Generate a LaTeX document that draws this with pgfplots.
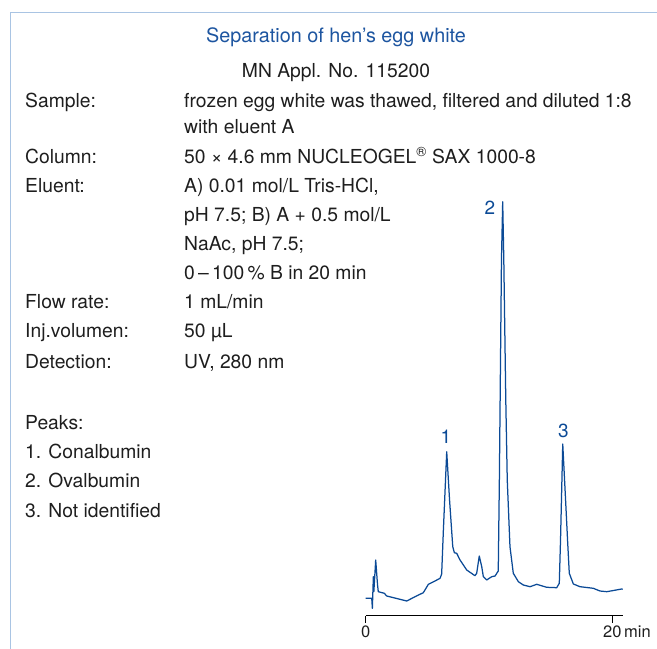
\documentclass[border=0pt]{standalone}
\usepackage{pgfplots}
\pgfplotsset{compat=1.18}
\usepackage{fontspec}
\setmainfont{TeX Gyre Heros}
\definecolor{mnblue}{HTML}{0B4A96}
\definecolor{titleblue}{HTML}{1D55A0}
\definecolor{framecol}{HTML}{A9C4E3}
\definecolor{txt}{HTML}{1E1E1E}

\begin{document}
\begin{tikzpicture}[x=1bp,y=1bp]
\useasboundingbox (0,0) rectangle (657,649);
\draw[framecol, line width=1.5bp] (10.5,0) -- (10.5,636.3) -- (657,636.3);
\tikzset{lab/.style={anchor=base west, inner sep=0pt, text=txt,
    font=\fontsize{19.3bp}{23bp}\selectfont}}

% header
\node[lab, anchor=base, text=titleblue, font=\fontsize{19.8bp}{23bp}\selectfont] at (336,606) {Separation of hen’s egg white};
\node[lab, anchor=base] at (336,571) {MN Appl. No. 115200};

% conditions
\node[lab] at (25,541) {Sample:};
\node[lab] at (184,541) {frozen egg white was thawed, filtered and diluted 1:8};
\node[lab] at (184,515) {with eluent A};
\node[lab] at (25,485) {Column:};
\node[lab] at (184,485) {50 × 4.6 mm NUCLEOGEL\textsuperscript{®} SAX 1000-8};
\node[lab] at (25,456) {Eluent:};
\node[lab] at (184,456) {A) 0.01 mol/L Tris-HCl,};
\node[lab] at (184,427) {pH 7.5; B) A + 0.5 mol/L};
\node[lab] at (184,398) {NaAc, pH 7.5;};
\node[lab] at (184,369) {0\,–\,100\,\% B in 20 min};
\node[lab] at (25,340) {Flow rate:};
\node[lab] at (184,340) {1 mL/min};
\node[lab] at (25,311) {Inj.volumen:};
\node[lab] at (184,311) {50 µL};
\node[lab] at (25,280) {Detection:};
\node[lab] at (184,280) {UV, 280 nm};

% peaks
\node[lab] at (25,219) {Peaks:};
\node[lab] at (25,190) {1. Conalbumin};
\node[lab] at (25,161) {2. Ovalbumin};
\node[lab] at (25,131) {3. Not identified};

\begin{axis}[
    at={(365.7bp,33.3bp)}, anchor=south west,
    scale only axis,
    width=257.7bp, height=420bp,
    xmin=0, xmax=20.9, ymin=0, ymax=420,
    axis x line=bottom, axis y line=none,
    x axis line style={-, black, line width=0.9bp},
    xtick={0,20},
    xticklabels={0,{20\rlap{\,min}}},
    tick align=outside,
    major tick length=7bp,
    tick style={black, line width=0.9bp},
    xticklabel style={font=\fontsize{16.5bp}{19bp}\selectfont, text=txt},
    clip=false,
  ]
  \addplot[mnblue, line width=1.25bp, line join=round] coordinates {
    (0.00,17.4) (0.49,17.4) (0.54,7.4) (0.62,39.0) (0.66,24.0)
    (0.81,55.7) (0.96,30.7) (1.02,24.0) (1.51,22.4) (1.70,19.7)
    (3.33,14.7) (4.00,19.0) (4.67,23.0) (4.89,27.4) (5.08,31.4)
    (5.62,34.7) (6.03,37.4) (6.16,41.7) (6.30,85.7) (6.57,164.0)
    (6.80,115.7) (7.06,69.0) (7.19,63.0) (7.38,62.4) (7.65,55.7)
    (8.19,45.7) (8.86,40.0) (9.00,42.4) (9.21,59.7) (9.41,49.0)
    (9.54,39.0) (9.81,35.7) (10.22,39.0) (10.49,39.7) (10.75,44.7)
    (10.84,135.7) (11.01,355.7) (11.11,414.0) (11.20,355.7)
    (11.36,215.7) (11.48,135.7) (11.70,69.0) (11.97,42.4)
    (12.38,34.0) (12.78,30.7) (13.33,29.0) (13.87,31.4) (14.68,28.4)
    (15.49,28.0) (15.70,32.4) (15.80,75.7) (15.98,171.7) (16.21,115.7)
    (16.37,75.7) (16.51,42.4) (16.84,31.7) (17.38,29.0) (18.46,27.4)
    (19.00,24.7) (19.55,24.0) (20.76,26.7) (20.84,26.4)
  };
  \node[text=mnblue, font=\fontsize{19bp}{22bp}\selectfont] at (axis cs:6.51,178.7) {1};
  \node[text=mnblue, font=\fontsize{19bp}{22bp}\selectfont] at (axis cs:10.08,407.7) {2};
  \node[text=mnblue, font=\fontsize{19bp}{22bp}\selectfont] at (axis cs:16.03,185) {3};
\end{axis}
\end{tikzpicture}
\end{document}
